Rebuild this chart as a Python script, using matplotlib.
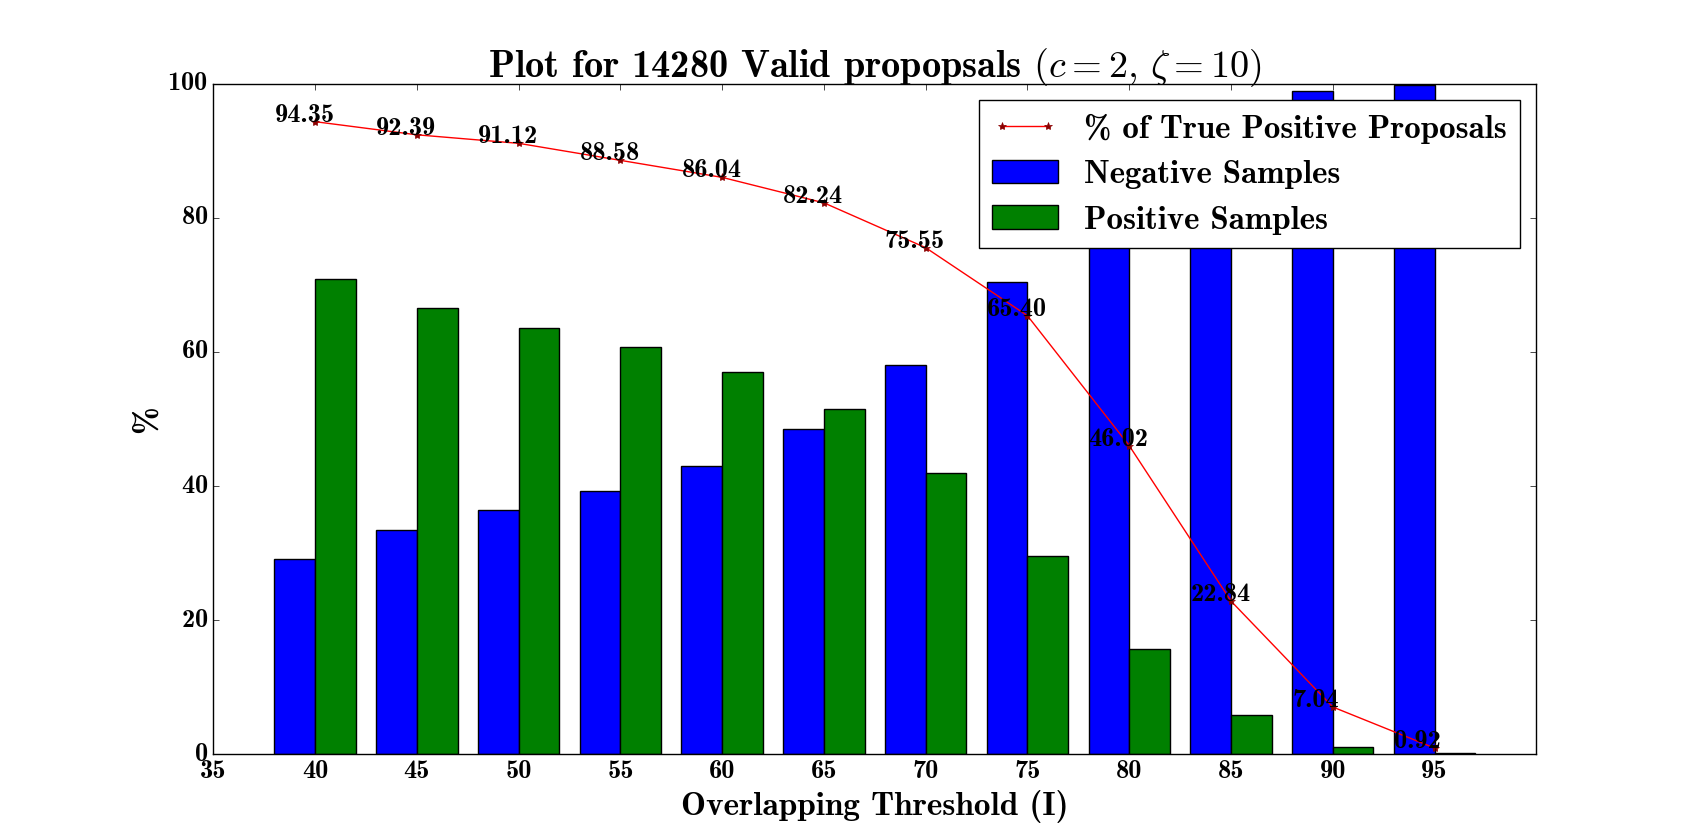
import matplotlib
matplotlib.use("Agg")
import matplotlib.pyplot as plt
import numpy as np

plt.style.use("classic")
plt.rcParams["font.family"] = ["cmb10", "DejaVu Serif"]
plt.rcParams["mathtext.fontset"] = "cm"
plt.rcParams["axes.formatter.use_mathtext"] = True
plt.rcParams["axes.unicode_minus"] = False

thresholds = [40, 45, 50, 55, 60, 65, 70, 75, 80, 85, 90, 95]
negative = [29.1, 33.5, 36.5, 39.3, 43.0, 48.5, 58.0, 70.5, 84.3, 94.2, 98.9, 99.8]
positive = [70.9, 66.5, 63.5, 60.7, 57.0, 51.5, 42.0, 29.5, 15.7, 5.8, 1.1, 0.2]
true_pos = [94.35, 92.39, 91.12, 88.58, 86.04, 82.24, 75.55, 65.40, 46.02, 22.84, 7.04, 0.92]
xtick_labels = [35, 40, 45, 50, 55, 60, 65, 70, 75, 80, 85, 90, 95]

fig = plt.figure(figsize=(17.07, 8.38), dpi=100)
ax = fig.add_subplot(111)
x = np.array(thresholds)
w = 2
ax.plot(x, true_pos, 'r-*', markersize=6, markeredgecolor='darkred',
        markerfacecolor='darkred', label='% of True Positive Proposals')
ax.bar(x - w, negative, width=w, align='edge', color='blue', label='Negative Samples')
ax.bar(x, positive, width=w, align='edge', color='green', label='Positive Samples')
for xi, v in zip(thresholds, true_pos):
    ax.text(xi - 2, v, '%.2f' % v, fontsize=19)

ax.set_xlim(35, 100)
ax.set_ylim(0, 100)
ax.set_xticks(xtick_labels)
ax.set_xticklabels([str(t) for t in xtick_labels])
ax.tick_params(labelsize=19)
ax.set_xlabel('Overlapping Threshold (I)', fontsize=24)
ax.set_ylabel('%', fontsize=24)
ax.set_title(r'Plot for 14280 Valid propopsals $(c=2,\, \zeta=10)$', fontsize=27.6)
ax.legend(loc='upper right', fontsize=23.7, labelspacing=0.5)

fig.savefig('out.png', dpi=100)
